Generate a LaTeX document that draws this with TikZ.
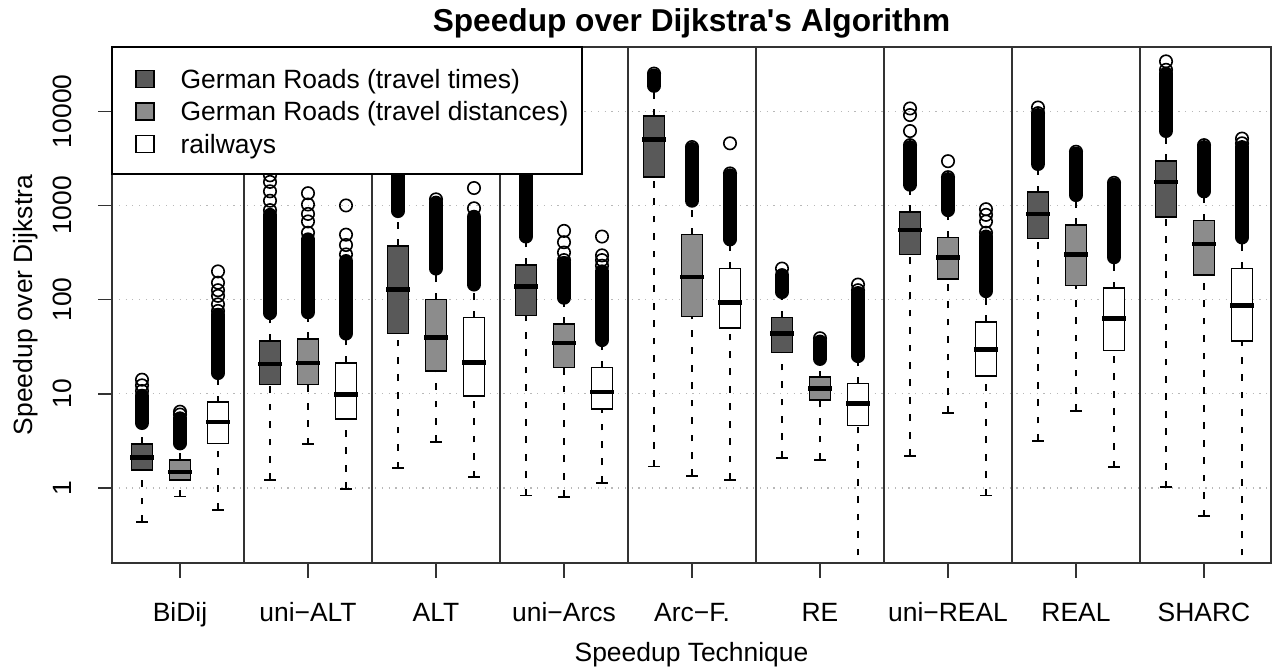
\documentclass[tikz,border=0pt]{standalone}
\usepackage{fontspec}
\setmainfont{Liberation Sans}
\usetikzlibrary{positioning}
\definecolor{dkbox}{gray}{0.35}
\definecolor{mdbox}{gray}{0.55}
\definecolor{gridc}{gray}{0.72}
\definecolor{framec}{gray}{0.2}
\newcommand{\labfont}{\fontsize{18.8}{22}\selectfont}

% x, fill, lower whisker, q1, median, q3, outliers from, to, single outliers (log10)
\newcommand{\bplot}[9]{%
  \draw[whisk] (#1,#3) -- (#1,#4) (#1,#6) -- (#1,#7);
  \draw[staple] (#1-6,#3) -- (#1+6,#3);
  \draw[bx, fill=#2] (#1-10.5,#4) rectangle (#1+10.5,#6);
  \draw[med] (#1-12,#5) -- (#1+12,#5);
  \draw[dense] (#1,#7) -- (#1,#8);
  \foreach \o in {#9} \draw[outl] (#1,\o) circle[radius=0.155cm];
}

\begin{document}
\begin{tikzpicture}[x=0.025cm, y=-0.025cm,
    whisk/.style={line width=1.3pt, dash pattern=on 4.8pt off 7.6pt},
    staple/.style={line width=1.3pt},
    bx/.style={line width=1.2pt},
    med/.style={line width=3.4pt},
    dense/.style={line width=0.35cm, line cap=round},
    outl/.style={line width=1.15pt},
    gridl/.style={gridc, line width=0.8pt, dash pattern=on 0.8pt off 4pt},
    frame/.style={framec, line width=1.2pt},
    tick/.style={framec, line width=1pt},
    ticklab/.style={font=\labfont, inner sep=0},
    key/.style={draw, line width=0.9pt, minimum width=0.45cm, minimum height=0.43cm, inner sep=0},
    legtext/.style={font=\labfont, inner sep=0, text height=13.5pt, text depth=0pt, anchor=west}]

\useasboundingbox (0,0) rectangle (1274,670);

% data, log10 scale
\begin{scope}
\clip (112,47) rectangle (1271,563);
\begin{scope}[shift={(0,488)}, y=2.354cm]
\foreach \e in {0,...,4} \draw[gridl] (112,\e) -- (1271,\e);

\bplot{142}{dkbox}{-0.36}{0.19}{0.32}{0.47}{0.69}{0.98}{1.03,1.09,1.15}
\bplot{180}{mdbox}{-0.09}{0.087}{0.17}{0.30}{0.474}{0.74}{0.78,0.81}
\bplot{218}{white}{-0.23}{0.474}{0.70}{0.91}{1.22}{1.84}{1.88,1.95,2.04,2.1,2.18,2.3}

\bplot{270}{dkbox}{0.083}{1.10}{1.316}{1.563}{1.857}{2.9}{2.95,3.05,3.15,3.25,3.32,3.40}
\bplot{308}{mdbox}{0.463}{1.10}{1.327}{1.58}{1.866}{2.64}{2.71,2.83,2.91,3.01,3.13}
\bplot{346}{white}{-0.01}{0.73}{0.994}{1.33}{1.64}{2.41}{2.48,2.58,2.69,3.0}

\bplot{398}{dkbox}{0.209}{1.64}{2.11}{2.57}{2.94}{3.5}{3.6}
\bplot{436}{mdbox}{0.486}{1.24}{1.60}{2.0}{2.33}{3.03}{3.065}
\bplot{474}{white}{0.114}{0.979}{1.33}{1.81}{2.16}{2.88}{2.97,3.185}

\bplot{526}{dkbox}{-0.08}{1.83}{2.14}{2.37}{2.67}{3.5}{3.6}
\bplot{564}{mdbox}{-0.095}{1.28}{1.54}{1.74}{2.02}{2.39}{2.42,2.50,2.61,2.73}
\bplot{602}{white}{0.057}{0.84}{1.02}{1.28}{1.57}{2.3}{2.36,2.42,2.47,2.67}

\bplot{654}{dkbox}{0.228}{3.30}{3.70}{3.95}{4.27}{4.38}{4.40}
\bplot{692}{mdbox}{0.125}{1.82}{2.24}{2.69}{3.05}{3.60}{3.62}
\bplot{730}{white}{0.087}{1.70}{1.97}{2.33}{2.64}{3.32}{3.34,3.66}

\bplot{782}{dkbox}{0.322}{1.44}{1.64}{1.81}{2.08}{2.26}{2.33}
\bplot{820}{mdbox}{0.30}{0.937}{1.06}{1.175}{1.37}{1.555}{1.59}
\bplot{858}{white}{-0.9}{0.664}{0.90}{1.11}{1.40}{2.07}{2.10,2.16}

\bplot{910}{dkbox}{0.34}{2.48}{2.74}{2.93}{3.22}{3.62}{3.64,3.79,3.96,4.03}
\bplot{948}{mdbox}{0.80}{2.22}{2.45}{2.66}{2.95}{3.28}{3.30,3.47}
\bplot{986}{white}{-0.08}{1.19}{1.47}{1.76}{2.09}{2.67}{2.71,2.83,2.90,2.96}

\bplot{1038}{dkbox}{0.50}{2.65}{2.91}{3.14}{3.44}{3.96}{3.98,4.04}
\bplot{1076}{mdbox}{0.815}{2.15}{2.48}{2.79}{3.11}{3.55}{3.57}
\bplot{1114}{white}{0.22}{1.46}{1.80}{2.12}{2.45}{3.22}{3.24}

\bplot{1166}{dkbox}{0.007}{2.88}{3.25}{3.47}{3.79}{4.40}{4.44,4.53}
\bplot{1204}{mdbox}{-0.30}{2.26}{2.59}{2.84}{3.15}{3.62}{3.64}
\bplot{1242}{white}{-0.9}{1.56}{1.94}{2.33}{2.66}{3.62}{3.66,3.71}
\end{scope}
\end{scope}

% frame and group separators
\draw[frame] (112,47) rectangle (1271,563);
\foreach \xd in {244,372,...,1140} \draw[frame] (\xd,47) -- (\xd,563);

% y axis
\begin{scope}[shift={(0,488)}, y=2.354cm]
\foreach \e/\lab [count=\k] in {0/1,1/10,2/100,3/1000,4/10000} {
  \draw[tick] (112,\e) -- (98,\e);
  \node[ticklab, rotate=90, anchor=base] (yl\k) at (71.5,\e) {\lab};
}
\end{scope}

% x axis
\foreach \lab [count=\i] in {BiDij,uni−ALT,ALT,uni−Arcs,Arc−F.,RE,uni−REAL,REAL,SHARC} {
  \draw[tick] (52+128*\i,563) -- (52+128*\i,578);
  \node[ticklab, anchor=base] (xl\i) at (52+128*\i,621) {\lab};
}

% legend
\draw[line width=0.9pt, fill=white] (112,47) rectangle (582,174);
\node[key, fill=dkbox] (keytt) at (145,79) {};
\node[key, fill=mdbox] (keytd) at (145,111.5) {};
\node[key, fill=white] (keyrw) at (145,144) {};
\node[legtext, right=0.64cm of keytt] (legtt) {German Roads (travel times)};
\node[legtext, right=0.64cm of keytd] (legtd) {German Roads (travel distances)};
\node[legtext, right=0.64cm of keyrw] (legrw) {railways};

% titles
\node[font=\bfseries\fontsize{22.5}{27}\selectfont, anchor=base] (title) at (691.5,31.5) {Speedup over Dijkstra\textquotesingle s Algorithm};
\node[ticklab, anchor=base] (xlab) at (691.5,661) {Speedup Technique};
\node[ticklab, rotate=90, anchor=base] (ylab) at (32,305) {Speedup over Dijkstra};
\end{tikzpicture}
\end{document}
